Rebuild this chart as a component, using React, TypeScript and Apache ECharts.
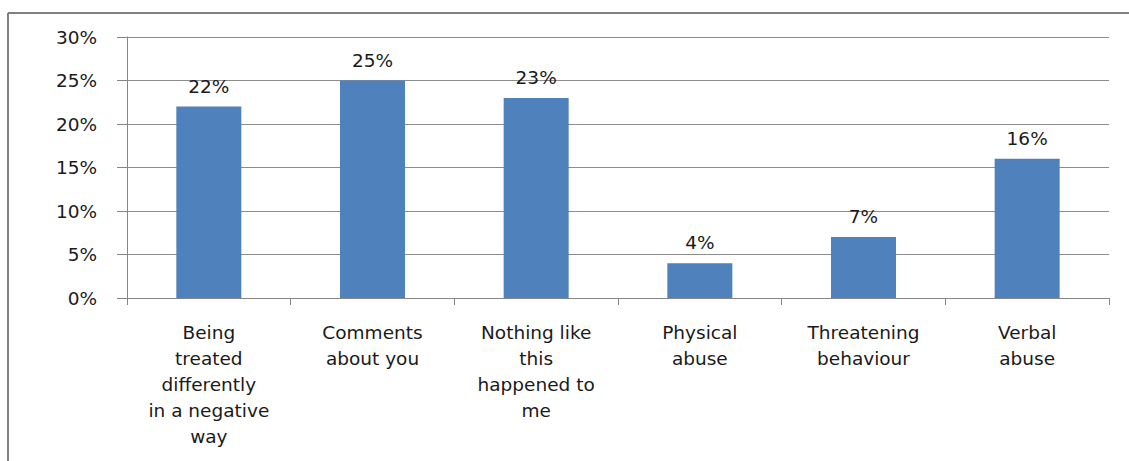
import React, { useEffect, useRef } from "react";
import * as echarts from "echarts";

const categories = [
  "Being\ntreated\ndifferently\nin a negative\nway",
  "Comments\nabout you",
  "Nothing like\nthis\nhappened to\nme",
  "Physical\nabuse",
  "Threatening\nbehaviour",
  "Verbal\nabuse",
];
const values = [22, 25, 23, 4, 7, 16];
const yMax = 30;
const yStep = 5;

export default function App() {
  const ref = useRef<HTMLDivElement>(null);
  useEffect(() => {
    if (!ref.current) return;
    const chart = echarts.init(ref.current, undefined, { renderer: "svg" });
    const font = "DejaVu Sans";
    chart.setOption({
      animation: false,
      backgroundColor: "#ffffff",
      textStyle: { fontFamily: font },
      graphic: [
        {
          type: "line",
          shape: { x1: 8, y1: 13, x2: 1129, y2: 13 },
          style: { stroke: "#808080", lineWidth: 2 },
          silent: true,
        },
        {
          type: "line",
          shape: { x1: 8, y1: 13, x2: 8, y2: 461 },
          style: { stroke: "#808080", lineWidth: 2 },
          silent: true,
        },
      ],
      grid: { left: 127, right: 20, top: 37, bottom: 163, containLabel: false },
      xAxis: {
        type: "category",
        data: categories,
        boundaryGap: true,
        axisLine: { show: true, lineStyle: { color: "#868686", width: 1 } },
        axisTick: { show: true, length: 7, alignWithLabel: false, lineStyle: { color: "#868686" } },
        axisLabel: {
          interval: 0,
          margin: 21,
          color: "#1a1a1a",
          fontSize: 18.5,
          lineHeight: 26,
          fontFamily: font,
          align: "center",
        },
      },
      yAxis: {
        type: "value",
        min: 0,
        max: yMax,
        interval: yStep,
        axisLine: { show: true, lineStyle: { color: "#868686", width: 1 } },
        axisTick: { show: true, length: 10, lineStyle: { color: "#868686" } },
        splitLine: { show: true, lineStyle: { color: "#8c8c8c", width: 1 } },
        axisLabel: {
          margin: 30,
          color: "#1a1a1a",
          fontSize: 18.5,
          fontFamily: font,
          formatter: (v: number) => `${v}%`,
        },
      },
      series: [
        {
          type: "bar",
          data: values,
          barWidth: 65,
          itemStyle: { color: "#4F81BD" },
          label: {
            show: true,
            position: "top",
            distance: 11,
            color: "#1a1a1a",
            fontSize: 18.5,
            fontFamily: font,
            formatter: (p: any) => `${p.value}%`,
          },
        },
      ],
    });
    return () => chart.dispose();
  }, []);
  return (
    <div
      ref={ref}
      style={{ position: "fixed", left: 0, top: 0, width: 1129, height: 461 }}
    />
  );
}
